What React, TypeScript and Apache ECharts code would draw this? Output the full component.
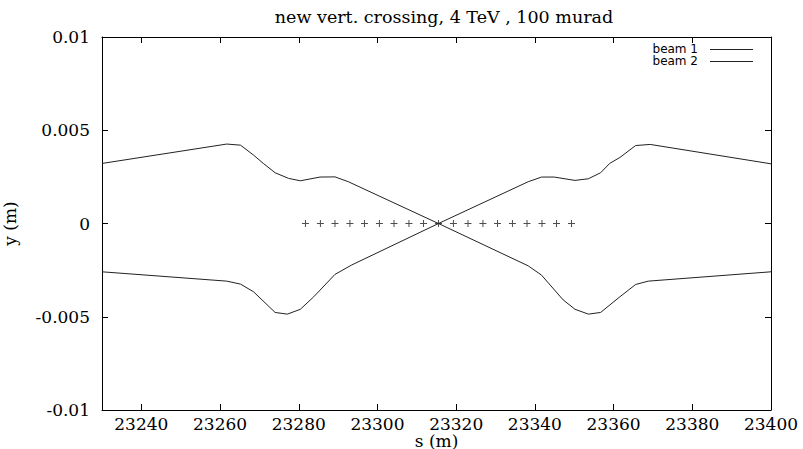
import React, { useEffect, useRef } from "react";
import * as echarts from "echarts";

// Orbit positions along the ring (s, metres) and vertical offsets (y, metres)
const beam1S = [23230, 23261.7, 23265.2, 23268.5, 23271, 23274, 23277.4, 23280.4, 23285.4, 23289.2, 23292.6, 23315.5, 23338.3, 23341.7, 23347.2, 23350.2, 23353.6, 23356.7, 23361.6, 23365.6, 23368.8, 23400];
const beam1Y = [0.00322, 0.00426, 0.0042, 0.00367, 0.00322, 0.00272, 0.00242, 0.00229, 0.00249, 0.0025, 0.00224, 0, -0.00227, -0.00277, -0.0041, -0.0046, -0.00486, -0.00477, -0.00393, -0.00327, -0.00309, -0.00259];

const beam2S = [23230, 23261.7, 23265.2, 23268.5, 23274, 23277.1, 23280.4, 23283.8, 23289.2, 23293.4, 23315.5, 23338.3, 23341.7, 23344.9, 23350.2, 23353.6, 23356.7, 23359, 23361.6, 23365.6, 23369.3, 23400];
const beam2Y = [-0.00259, -0.00309, -0.00325, -0.00366, -0.00477, -0.00486, -0.0046, -0.00393, -0.00273, -0.00223, 0, 0.00224, 0.00249, 0.00249, 0.00231, 0.0024, 0.00272, 0.00322, 0.00354, 0.00418, 0.00424, 0.0032];

// Marker positions on the reference orbit
const markerS = [23281.7, 23285.5, 23289.2, 23293.0, 23296.7, 23300.5, 23304.2, 23308.0, 23311.7, 23315.5, 23319.3, 23323.0, 23326.8, 23330.5, 23334.3, 23338.0, 23341.8, 23345.5, 23349.3];

const xTicks = [23240, 23260, 23280, 23300, 23320, 23340, 23360, 23380, 23400];
const yTicks = [-0.01, -0.005, 0, 0.005, 0.01];
const legendNames = ["beam 1", "beam 2"];

const serif = "DejaVu Serif";
const sans = "DejaVu Sans";
const ink = "#222";

const zip = (xs: number[], ys: number[]) => xs.map((x, i) => [x, ys[i]]);

export default function App() {
  const ref = useRef<HTMLDivElement>(null);

  useEffect(() => {
    if (!ref.current) return;
    const chart = echarts.init(ref.current, undefined, { renderer: "svg" });

    const axisLine = { show: true, onZero: false, lineStyle: { color: "#000", width: 1 } };
    const tick = { show: true, inside: true, length: 6, lineStyle: { color: "#000", width: 1 } };

    // key in the top-right corner: labels on the left, line samples on the right
    const keyTop = 49;
    const keyStep = 12;
    const legendGraphics = [
      {
        type: "text",
        right: 105,
        top: keyTop - 6,
        style: {
          text: legendNames.join("\n"),
          fontFamily: sans,
          fontSize: 12,
          lineHeight: keyStep,
          align: "right",
          fill: "#000",
        },
        silent: true,
      },
      ...legendNames.map((_, i) => ({
        type: "line",
        shape: { x1: 710, y1: keyTop + i * keyStep + 0.5, x2: 753, y2: keyTop + i * keyStep + 0.5 },
        style: { stroke: ink, lineWidth: 1 },
        silent: true,
      })),
    ];

    chart.setOption({
      animation: false,
      backgroundColor: "#fff",
      title: {
        text: "new vert. crossing, 4 TeV , 100 murad",
        left: 439,
        textAlign: "center",
        top: 3,
        textStyle: { fontFamily: serif, fontWeight: "normal", fontSize: 17.5, color: "#000" },
      },
      graphic: legendGraphics,
      grid: { left: 102, right: 32, top: 37, bottom: 39, containLabel: false, outerBoundsMode: "none" },
      xAxis: [
        {
          type: "value",
          min: 23230,
          max: 23400,
          name: "s (m)",
          nameLocation: "middle",
          nameGap: 22,
          nameMoveOverlap: false,
          nameTextStyle: { fontFamily: serif, fontSize: 17, color: "#000" },
          axisLine,
          axisTick: { ...tick, customValues: xTicks },
          axisLabel: {
            customValues: xTicks,
            fontFamily: serif,
            fontSize: 17,
            color: "#000",
            margin: 5,
            formatter: (v: number) => String(v),
          },
          splitLine: { show: false },
        },
        {
          type: "value",
          position: "top",
          min: 23230,
          max: 23400,
          axisLine,
          axisTick: { ...tick, customValues: xTicks },
          axisLabel: { show: false, customValues: xTicks },
          splitLine: { show: false },
        },
      ],
      yAxis: [
        {
          type: "value",
          min: -0.01,
          max: 0.01,
          interval: 0.005,
          name: "y (m)",
          nameLocation: "middle",
          nameGap: 84,
          nameMoveOverlap: false,
          nameTextStyle: { fontFamily: serif, fontSize: 17, color: "#000" },
          axisLine,
          axisTick: tick,
          axisLabel: {
            fontFamily: serif,
            fontSize: 17,
            color: "#000",
            margin: 12,
            formatter: (v: number) => {
              const r = Math.round(v * 1e6) / 1e6;
              const t = yTicks.find((k) => Math.abs(k - r) < 1e-9);
              return String(t === undefined ? r : t);
            },
          },
          splitLine: { show: false },
        },
        {
          type: "value",
          position: "right",
          min: -0.01,
          max: 0.01,
          interval: 0.005,
          axisLine,
          axisTick: tick,
          axisLabel: { show: false },
          splitLine: { show: false },
        },
      ],
      series: [
        {
          name: "beam 1",
          type: "line",
          symbol: "none",
          data: zip(beam1S, beam1Y),
          lineStyle: { color: ink, width: 1 },
          itemStyle: { color: ink },
        },
        {
          name: "beam 2",
          type: "line",
          symbol: "none",
          data: zip(beam2S, beam2Y),
          lineStyle: { color: ink, width: 1 },
          itemStyle: { color: ink },
        },
        {
          name: "markers",
          type: "scatter",
          symbol: "path://M3,0H4V3H7V4H4V7H3V4H0V3H3Z",
          symbolSize: 7,
          data: markerS.map((s) => [s, 0]),
          itemStyle: { color: ink },
          silent: true,
        },
      ],
    });

    return () => chart.dispose();
  }, []);

  return <div ref={ref} style={{ width: 803, height: 449, position: "absolute", left: 0, top: 0 }} />;
}
